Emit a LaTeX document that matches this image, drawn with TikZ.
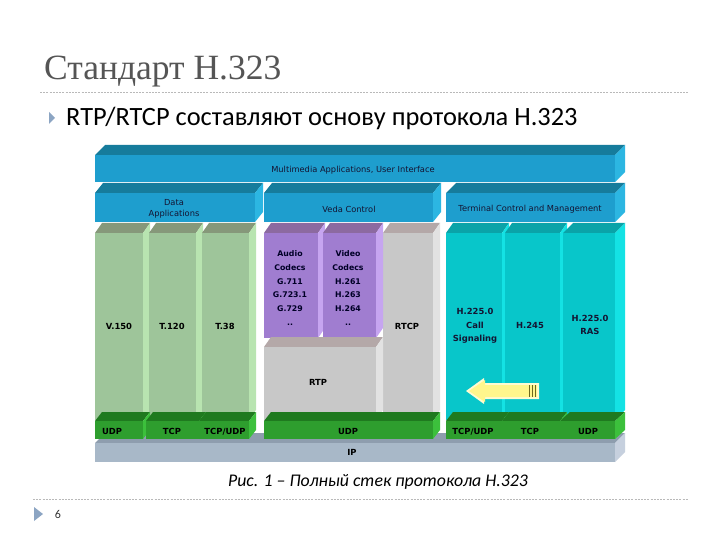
\documentclass[tikz,border=0pt]{standalone}
\usepackage{fontspec}
\setmainfont{Liberation Serif}
\newfontfamily\carl{Carlito}
\newfontfamily\dvs{DejaVu Sans}
\definecolor{mmF}{RGB}{30,158,206}
\definecolor{mmT}{RGB}{22,124,156}
\definecolor{mmS}{RGB}{44,182,226}
\definecolor{gcF}{RGB}{158,197,154}
\definecolor{gcT}{RGB}{134,152,122}
\definecolor{gcS}{RGB}{184,228,176}
\definecolor{puF}{RGB}{160,125,208}
\definecolor{puT}{RGB}{140,106,160}
\definecolor{puS}{RGB}{198,165,240}
\definecolor{grF}{RGB}{200,200,200}
\definecolor{grT}{RGB}{180,168,168}
\definecolor{grS}{RGB}{226,226,226}
\definecolor{teF}{RGB}{8,198,202}
\definecolor{teT}{RGB}{10,163,168}
\definecolor{teS}{RGB}{20,226,228}
\definecolor{trF}{RGB}{46,158,46}
\definecolor{trT}{RGB}{31,122,31}
\definecolor{trS}{RGB}{60,192,60}
\definecolor{ipF}{RGB}{168,184,200}
\definecolor{ipT}{RGB}{142,157,174}
\definecolor{ipS}{RGB}{198,208,222}
\definecolor{titlegray}{RGB}{85,85,85}
\definecolor{bul}{RGB}{140,165,195}
\definecolor{lbl}{RGB}{20,20,50}
\definecolor{arrF}{RGB}{255,246,140}
% 3D box: x1,y1,x2,y2 (front face), front, top, side, dx, dy
\newcommand{\boxthree}[9]{%
  \fill[#6] (#1,#2) -- ({#1+#8},{#2-#9}) -- ({#3+#8},{#2-#9}) -- (#3,#2) -- cycle;
  \fill[#7] (#3,#2) -- ({#3+#8},{#2-#9}) -- ({#3+#8},{#4-#9}) -- (#3,#4) -- cycle;
  \fill[#5] (#1,#2) rectangle (#3,#4);
}
\tikzset{
  lab/.style={font=\dvs\fontsize{8.3}{10.5}\selectfont, text=lbl, align=center, inner sep=0pt},
  blab/.style={font=\dvs\bfseries\fontsize{8.4}{13.5}\selectfont, text=black, align=center, inner sep=0pt, text depth=0pt},
  dots/.style={gray!55, line width=0.8pt, dash pattern=on 2pt off 1.2pt}
}
\begin{document}
\begin{tikzpicture}[x=1pt,y=-1pt]
\useasboundingbox (0,0) rectangle (720,540);
\fill[white] (0,0) rectangle (720,540);
% title
\node[anchor=base west, inner sep=0pt, font=\fontsize{35.5}{40}\selectfont, text=titlegray] (title) at (44,80) {Стандарт Н.323};
\draw[dots] (40,92) -- (688,92);
\fill[bul] (49,112) -- (55,118) -- (49,124) -- cycle;
\node[anchor=west, inner sep=0pt, font=\carl\fontsize{26.4}{30}\selectfont] (sub) at (66,118) {RTP/RTCP составляют основу протокола H.323};
% row 1
\boxthree{95}{155}{615}{182}{mmF}{mmT}{mmS}{10}{10}
\node[lab] (mm) at (353,170) {Multimedia Applications, User Interface};
% row 2
\boxthree{95}{193}{255}{222}{mmF}{mmT}{mmS}{8}{10}
\boxthree{264}{193}{433}{222}{mmF}{mmT}{mmS}{8}{10}
\boxthree{446}{193}{615}{222}{mmF}{mmT}{mmS}{10}{10}
\node[lab] (da) at (174,209) {Data\\Applications};
\node[lab] (vc) at (349,209) {Veda Control};
\node[lab] (tc) at (530,209) {Terminal Control and Management};
% green columns
\boxthree{95}{233}{143}{420}{gcF}{gcT}{gcS}{7}{10}
\boxthree{149}{233}{196}{420}{gcF}{gcT}{gcS}{7}{10}
\boxthree{202}{233}{249}{420}{gcF}{gcT}{gcS}{7}{10}
\node[blab] (v150) at (119,326) {V.150};
\node[blab] (t120) at (172,326) {T.120};
\node[blab] (t38) at (225,326) {T.38};
% RTCP
\boxthree{383}{233}{433}{420}{grF}{grT}{grS}{7}{10}
\node[blab] (rtcp) at (407,326) {RTCP};
% purple
\boxthree{264}{233}{318}{338}{puF}{puT}{puS}{7}{10}
\boxthree{323}{233}{376}{338}{puF}{puT}{puS}{7}{10}
\node[blab, font=\dvs\bfseries\fontsize{7.8}{13.8}\selectfont, text=black!85!blue] (ac) at (290,288) {Audio\\Codecs\\G.711\\G.723.1\\G.729\\..};
\node[blab, font=\dvs\bfseries\fontsize{7.8}{13.8}\selectfont, text=black!85!blue] (vcd) at (348,288) {Video\\Codecs\\H.261\\H.263\\H.264\\..};
% RTP
\boxthree{264}{347}{376}{420}{grF}{grT}{grS}{7}{10}
\node[blab] (rtp) at (318,382) {RTP};
% teal
\boxthree{446}{233}{502}{420}{teF}{teT}{teS}{7}{10}
\boxthree{505}{233}{560}{420}{teF}{teT}{teS}{7}{10}
\boxthree{563}{233}{615}{420}{teF}{teT}{teS}{10}{10}
\node[blab, text=lbl] (h225) at (475,325) {H.225.0\\Call\\Signaling};
\node[blab, text=lbl] (h245) at (530,325) {H.245};
\node[blab, text=lbl] (ras) at (590,325) {H.225.0\\RAS};
% arrow
\fill[white!60!arrF] (466,391) -- (484,378) -- (484,383) -- (539,383) -- (539,399) -- (484,399) -- (484,404) -- cycle;
\fill[arrF] (469,391) -- (485,380) -- (485,385) -- (537,385) -- (537,397) -- (485,397) -- (485,402) -- cycle;
\draw[olive!70!black, line width=0.6pt] (529,385) -- (529,397) (532,385) -- (532,397) (535,385) -- (535,397);
% IP
\boxthree{95}{443}{615}{462}{ipF}{ipT}{ipS}{10}{10}
\node[blab] (ip) at (352,452) {IP};
% transport
\boxthree{95}{421}{143}{439}{trF}{trT}{trS}{7}{9}
\boxthree{146}{421}{199}{439}{trF}{trT}{trS}{7}{9}
\boxthree{199}{421}{249}{439}{trF}{trT}{trS}{7}{9}
\boxthree{264}{421}{433}{439}{trF}{trT}{trS}{7}{9}
\boxthree{446}{421}{502}{439}{trF}{trT}{trS}{7}{9}
\boxthree{502}{421}{560}{439}{trF}{trT}{trS}{7}{9}
\boxthree{560}{421}{615}{439}{trF}{trT}{trS}{10}{9}
\node[blab] (u1) at (112,431) {UDP};
\node[blab] (t1) at (172,431) {TCP};
\node[blab] (tu1) at (225,431) {TCP/UDP};
\node[blab] (u2) at (348,431) {UDP};
\node[blab] (tu2) at (473,431) {TCP/UDP};
\node[blab] (t2) at (530,431) {TCP};
\node[blab] (u3) at (588,431) {UDP};
% caption
\node[font=\carl\itshape\fontsize{17.8}{20}\selectfont, inner sep=0pt] (cap) at (378,482) {Рис. 1 – Полный стек протокола H.323};
\draw[dots] (33,499) -- (688,499);
\fill[bul] (34,507) -- (43,514) -- (34,521) -- cycle;
\node[font=\carl\fontsize{12}{14}\selectfont, text=black!80, inner sep=0pt] (pg) at (58,514) {6};
\end{tikzpicture}
\end{document}
